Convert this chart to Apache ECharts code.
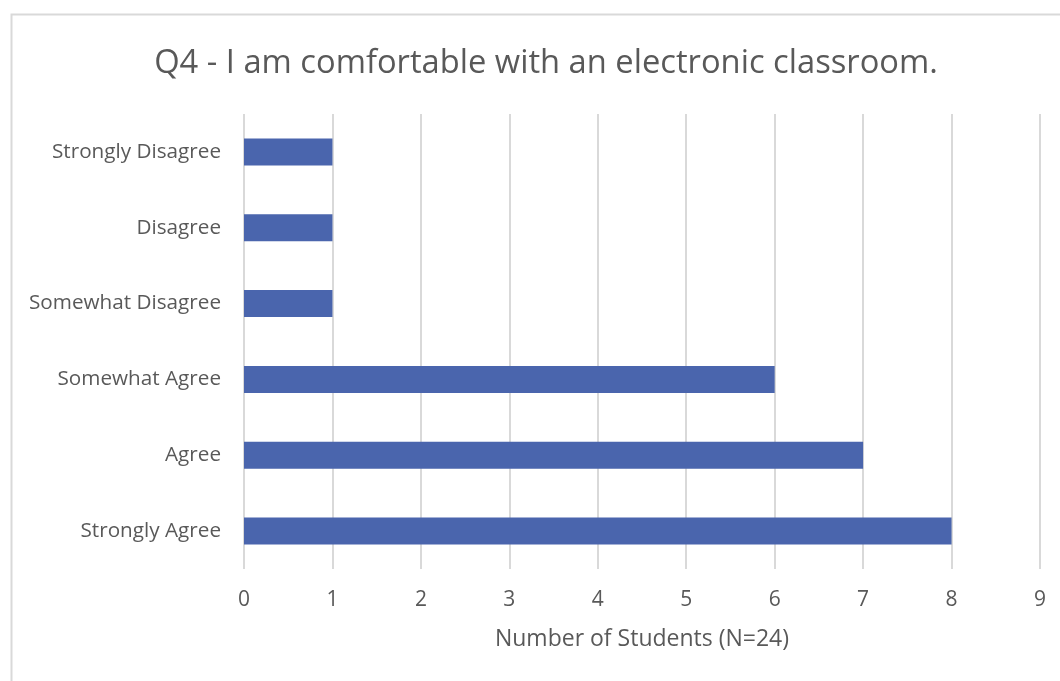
<!DOCTYPE html>
<html>
<head>
<meta charset="utf-8">
<script src="https://cdn.jsdelivr.net/npm/echarts@6/dist/echarts.min.js"></script>
<style>
html,body{margin:0;padding:0;background:#fff;}
#chart{width:1060px;height:681px;}
</style>
</head>
<body>
<div id="chart"></div>
<script>
const titleText = 'Q4 - I am comfortable with an electronic classroom.';
const categories = ['Strongly Agree', 'Agree', 'Somewhat Agree', 'Somewhat Disagree', 'Disagree', 'Strongly Disagree'];
const counts = [8, 7, 6, 1, 1, 1];
const xTicks = [0, 1, 2, 3, 4, 5, 6, 7, 8, 9];
const xAxisName = 'Number of Students (N=24)';

const font = '"Segoe UI", "Open Sans", "Noto Sans", sans-serif';
const chart = echarts.init(document.getElementById('chart'), null, {renderer: 'canvas'});
chart.setOption({
  animation: false,
  backgroundColor: '#fff',
  graphic: [{
    type: 'rect',
    shape: {x: 11.5, y: 14.5, width: 1100, height: 700},
    style: {fill: 'none', stroke: '#d9d9d9', lineWidth: 2},
    silent: true
  }],
  title: {
    text: titleText,
    left: 541, top: 42, textAlign: 'center',
    textStyle: {fontFamily: font, fontSize: 32.7, fontWeight: 'normal', color: '#595959'}
  },
  grid: {left: 244, right: 20, top: 114, bottom: 112, containLabel: false},
  xAxis: {
    type: 'value', min: xTicks[0], max: xTicks[xTicks.length - 1], interval: 1,
    name: xAxisName, nameLocation: 'middle', nameGap: 59,
    nameTextStyle: {fontFamily: font, fontSize: 23, color: '#595959'},
    axisLine: {show: false}, axisTick: {show: false},
    axisLabel: {fontFamily: font, fontSize: 21, color: '#595959', margin: 21},
    splitLine: {show: true, lineStyle: {color: '#d9d9d9', width: 2}}
  },
  yAxis: {
    type: 'category', data: categories,
    axisLine: {show: false}, axisTick: {show: false},
    axisLabel: {fontFamily: font, fontSize: 20.7, color: '#595959', margin: 23},
    splitLine: {show: false}
  },
  series: [{
    type: 'bar', data: counts, barWidth: 27,
    itemStyle: {color: '#4a65ad'}
  }]
});
</script>
</body>
</html>
